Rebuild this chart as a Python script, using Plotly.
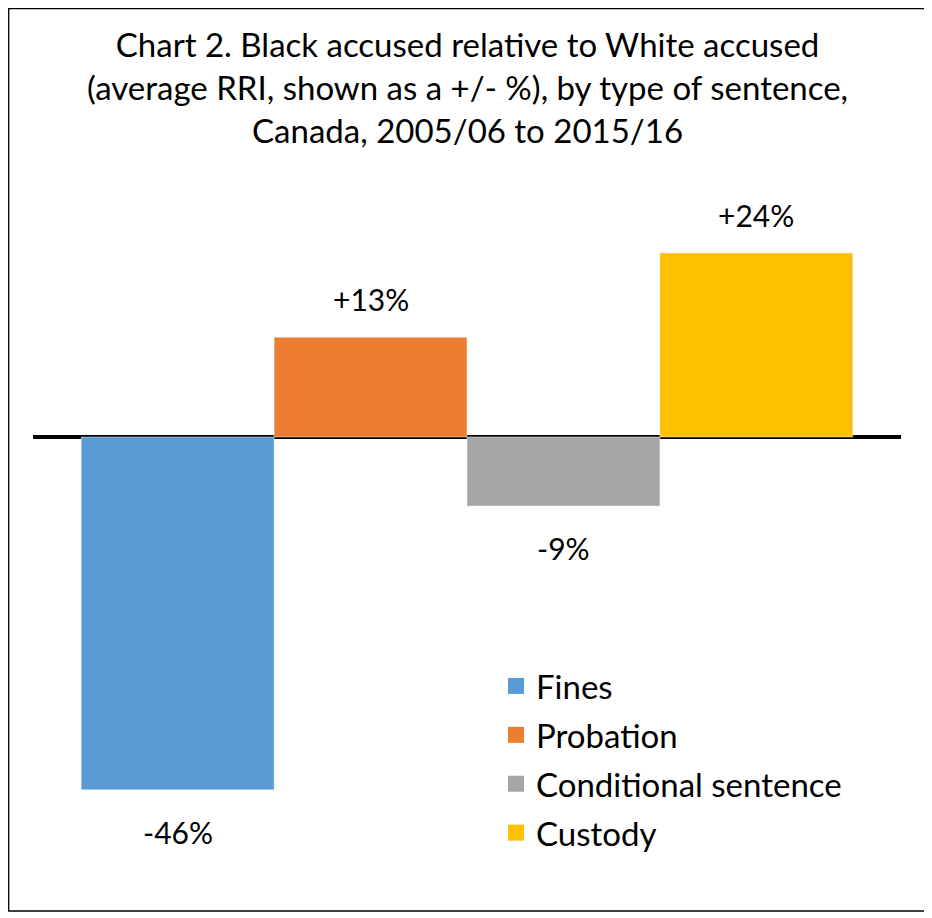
import plotly.graph_objects as go

# values (average RRI as +/- %)
sentences = ["Fines", "Probation", "Conditional sentence", "Custody"]
rri_pct = [-46, 13, -9, 24]
labels = ["-46%", "+13%", "-9%", "+24%"]
colors = ["#5B9BD5", "#ED7D31", "#A5A5A5", "#FFC000"]
title_lines = ["Chart 2. Black accused relative to White accused",
               "(average RRI, shown as a +/- %), by type of sentence,",
               "Canada, 2005/06 to 2015/16"]

# the page body adds an 8px margin, so lay out in shifted pixels
OFF = 8
W, H = 932 - OFF, 918 - OFF
ml, mr, mt, mb = 33 - OFF, 31, 190 - OFF, 38
plot_w = W - ml - mr
plot_h = H - mt - mb
zero_y = 437 - OFF
px_per_pct = 7.67


def pxx(x):
    return (x - ml) / plot_w


def pxy(y):
    return (H - mb - y) / plot_h


fig = go.Figure()

for name, val, col in zip(sentences, rri_pct, colors):
    fig.add_trace(go.Bar(x=[name], y=[val], width=1, marker_color=col,
                         showlegend=False, hoverinfo="name+y", name=name))

# legend entries with bigger squares than the bar default
for name, col in zip(sentences, colors):
    fig.add_trace(go.Scatter(x=[None], y=[None], mode="markers", name=name,
                             legendgroup=name,
                             marker=dict(symbol="square", size=16, color=col)))

for name, val, lab in zip(sentences, rri_pct, labels):
    fig.add_annotation(x=name, y=val, text=lab, showarrow=False,
                       yanchor="middle", yshift=38 if val > 0 else -42,
                       font=dict(size=30, color="black"))

fig.add_annotation(text="<br>".join(title_lines), xref="paper", yref="paper",
                   x=0.5, y=pxy(14), xanchor="center", yanchor="top",
                   showarrow=False, font=dict(size=33, color="black"))

# outer chart border
fig.add_shape(type="rect", xref="paper", yref="paper",
              x0=pxx(0.7), x1=pxx(917), y0=pxy(903), y1=pxy(0.7),
              line=dict(color="black", width=1.3))

fig.update_layout(
    width=W, height=H,
    margin=dict(l=ml, r=mr, t=mt, b=mb),
    paper_bgcolor="white", plot_bgcolor="white",
    font=dict(family="Lato", size=28, color="black"),
    barmode="relative",
    legend=dict(x=pxx(488), y=pxy(650),
                xanchor="left", yanchor="top", tracegroupgap=3,
                font=dict(size=33), bgcolor="rgba(0,0,0,0)"),
    xaxis=dict(range=[-0.75, 3.75], showticklabels=False, showgrid=False,
               zeroline=False, showline=False),
    yaxis=dict(range=[-(H - mb - zero_y) / px_per_pct, (zero_y - mt) / px_per_pct],
               showticklabels=False, showgrid=False,
               zeroline=True, zerolinecolor="black", zerolinewidth=3.5,
               showline=False),
)

fig.write_html("out.html")
